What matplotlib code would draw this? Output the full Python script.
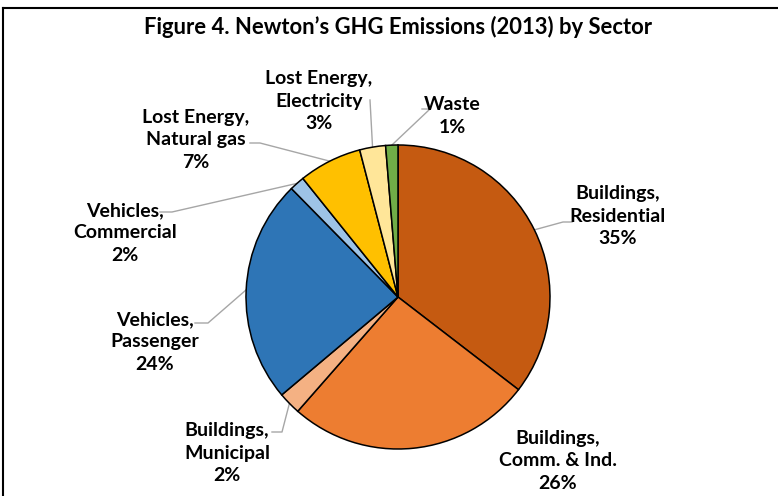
import numpy as np
import matplotlib.pyplot as plt

plt.rcParams['font.family'] = ['Lato', 'DejaVu Sans']

sectors = ["Buildings,\nResidential", "Buildings,\nComm. & Ind.", "Buildings,\nMunicipal",
           "Vehicles,\nPassenger", "Vehicles,\nCommercial", "Lost Energy,\nNatural gas",
           "Lost Energy,\nElectricity", "Waste"]
shares = [35.4, 26.0, 2.4, 23.75, 1.6, 6.7, 2.75, 1.3]
colors = ["#C55A11", "#ED7D31", "#F4B183", "#2E75B6", "#9DC3E6", "#FFC000", "#FFE699", "#70AD47"]

W, H = 778, 496
fig = plt.figure(figsize=(W / 100, H / 100), dpi=100)
ax = fig.add_axes([0, 0, 1, 1])

cx, cy, r = 398, H - 297, 152
wedges, _ = ax.pie(shares, colors=colors, startangle=90, counterclock=False,
                   center=(cx, cy), radius=r, frame=True,
                   wedgeprops=dict(edgecolor='black', linewidth=1.1))
ax.set_xlim(0, W)
ax.set_ylim(0, H)
ax.set_aspect('equal')
ax.axis('off')

total = sum(shares)
# label text centres (pixel coords, y from top) and leader elbows
label_pos = [(618, 216), (558, 461), (227, 453), (155, 342), (125, 233), (196, 140), (319, 101), (452, 116)]
elbows = [[(563, 222), (572, 222)], None, [(282, 432), (272, 432)], [(208, 323), (195, 323)],
          [(172, 212), (160, 212)], [(260, 143), (250, 143)], [(370, 100)], [(430, 109), (422, 109)]]

for w, name, v, (lx, ly), elb in zip(wedges, sectors, shares, label_pos, elbows):
    ax.text(lx, H - ly, f"{name}\n{v / total * 100:.0f}%", ha='center', va='center',
            fontsize=14, fontweight='bold', linespacing=1.36, color='black')
    if elb is None:
        continue
    mid = np.deg2rad((w.theta1 + w.theta2) / 2)
    px, py = cx + r * np.cos(mid), cy + r * np.sin(mid)
    xs = [px] + [e[0] for e in elb]
    ys = [py] + [H - e[1] for e in elb]
    ax.plot(xs, ys, color='#A6A6A6', lw=1, zorder=0.5)

fig.text(398 / W, 1 - 27 / H, "Figure 4. Newton\u2019s GHG Emissions (2013) by Sector",
         ha='center', va='center', fontsize=15.8, fontweight='bold')

# chart frame (left and top edges visible)
fig.add_artist(plt.Line2D([3 / W, 3 / W], [0, 1 - 8 / H], color='black', lw=1.5))
fig.add_artist(plt.Line2D([3 / W, 777 / W], [1 - 8 / H, 1 - 8 / H], color='black', lw=1.5))

fig.savefig("out.png", dpi=100)
